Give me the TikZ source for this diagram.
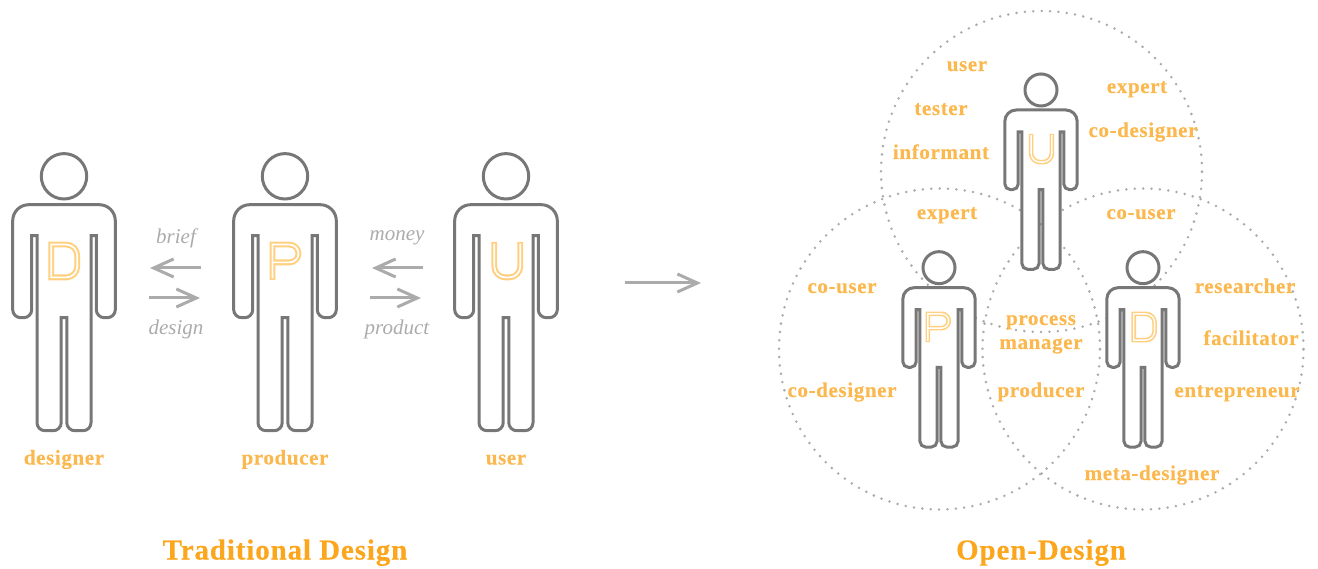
\documentclass[tikz,border=0pt]{standalone}
\usepackage{fontspec}
\setmainfont{Liberation Serif}
\usetikzlibrary{arrows.meta}
\definecolor{figgray}{HTML}{777777}
\definecolor{arrgray}{HTML}{ABABAB}
\definecolor{dotgray}{HTML}{ABABAB}
\definecolor{lab}{HTML}{FBB84F}
\definecolor{ttl}{HTML}{FBA61C}
\definecolor{ltr}{HTML}{FFD080}
\tikzset{
  personline/.style={draw=figgray,line width=3pt,fill=white,line join=miter},
  venn/.style={draw=dotgray,line width=2.8pt,line cap=round,dash pattern=on 0pt off 8.4pt},
  flow/.style={draw=arrgray,line width=3pt,-{Straight Barb[length=20pt,width=18pt,line width=3pt]}},
  rolelabel/.style={text=lab,font=\fontsize{21}{24}\selectfont\bfseries\addfontfeatures{LetterSpace=3,FakeBold=0.25},anchor=base,align=center,inner sep=0pt},
  flowlabel/.style={text=arrgray,font=\fontsize{21}{24}\selectfont\itshape,anchor=base,inner sep=0pt},
  titlelabel/.style={text=ttl,font=\fontsize{29}{32}\selectfont\bfseries\addfontfeatures{LetterSpace=3,FakeBold=0.25},anchor=base,inner sep=0pt},
}
% #1 x, #2 shoulder y, #3 scale
\newcommand{\personfig}[3]{%
  \begin{scope}[shift={(#1,#2)},x=#3pt,y=-#3pt]
    \draw[personline] (0,-28.4) circle[radius=22.7];
    \draw[personline]
      (-35.3,0) -- (35.3,0) arc[start angle=-90,end angle=0,radius=16]
      -- (51.3,105) arc[start angle=0,end angle=90,radius=8]
      -- (40.3,113) arc[start angle=90,end angle=180,radius=8]
      -- (32.3,31) -- (27,31)
      -- (27,218) arc[start angle=0,end angle=90,radius=8]
      -- (10.8,226) arc[start angle=90,end angle=180,radius=8]
      -- (2.8,113) -- (-2.8,113)
      -- (-2.8,218) arc[start angle=0,end angle=90,radius=8]
      -- (-19,226) arc[start angle=90,end angle=180,radius=8]
      -- (-27,31) -- (-32.3,31)
      -- (-32.3,105) arc[start angle=0,end angle=90,radius=8]
      -- (-43.3,113) arc[start angle=90,end angle=180,radius=8]
      -- (-51.3,16) arc[start angle=180,end angle=270,radius=16]
      -- cycle;
  \end{scope}}
% #1 x, #2 centre y, #3 scale
\newcommand{\ltrD}[3]{%
  \begin{scope}[shift={(#1,#2)},x=#3pt,y=-#3pt]
    \pgfmathsetmacro{\wo}{5.8*#3}\pgfmathsetmacro{\wi}{1.7*#3}
    \foreach \cc/\ww in {ltr/\wo,white/\wi}{
    \draw[\cc,line width=\ww pt]
      (-13,-16.4) -- (2,-16.4) arc[start angle=-90,end angle=0,radius=11]
      -- (13,5.4) arc[start angle=0,end angle=90,radius=11]
      -- (-13,16.4) -- cycle;}
  \end{scope}}
\newcommand{\ltrP}[3]{%
  \begin{scope}[shift={(#1,#2)},x=#3pt,y=-#3pt]
    \pgfmathsetmacro{\wo}{5.8*#3}\pgfmathsetmacro{\wi}{1.7*#3}
    \draw[ltr,line width=\wo pt]
      (-13,19) -- (-13,-16.4) -- (4.1,-16.4) arc[start angle=-90,end angle=90,radius=8.9] -- (-13,1.4);
    \draw[white,line width=\wi pt]
      (-13,17.4) -- (-13,-16.4) -- (4.1,-16.4) arc[start angle=-90,end angle=90,radius=8.9] -- (-13,1.4);
  \end{scope}}
\newcommand{\ltrU}[3]{%
  \begin{scope}[shift={(#1,#2)},x=#3pt,y=-#3pt]
    \pgfmathsetmacro{\wo}{5.8*#3}\pgfmathsetmacro{\wi}{1.7*#3}
    \draw[ltr,line width=\wo pt]
      (-13,-19) -- (-13,5.4) arc[start angle=180,end angle=90,radius=11]
      -- (2,16.4) arc[start angle=90,end angle=0,radius=11] -- (13,-19);
    \draw[white,line width=\wi pt]
      (-13,-17.4) -- (-13,5.4) arc[start angle=180,end angle=90,radius=11]
      -- (2,16.4) arc[start angle=90,end angle=0,radius=11] -- (13,-17.4);
  \end{scope}}
\begin{document}
\begin{tikzpicture}[x=1pt,y=-1pt]
\useasboundingbox (0,0) rectangle (1318,569);
% dotted circles
\node[venn,circle,minimum size=321pt,inner sep=0pt] (topring) at (1041.5,171.5) {};
\node[venn,circle,minimum size=321pt,inner sep=0pt] (leftring) at (939.5,349) {};
\node[venn,circle,minimum size=321pt,inner sep=0pt] (rightring) at (1143,349) {};
% figures
\personfig{64}{204.7}{1}
\personfig{285}{204.7}{1}
\personfig{506}{204.7}{1}
\personfig{1041}{110}{0.705}
\personfig{939}{287.7}{0.705}
\personfig{1143}{287.7}{0.705}
\ltrD{64.3}{261}{1}
\ltrP{285.5}{261}{1}
\ltrU{507.3}{261}{1}
\ltrU{1041.5}{149}{0.8}
\ltrP{938.3}{327}{0.8}
\ltrD{1144.2}{327}{0.8}
% arrows
\coordinate (b1s) at (201,268); \coordinate (b1e) at (150,268);
\coordinate (d1s) at (149,298); \coordinate (d1e) at (200,298);
\coordinate (b2s) at (423,268); \coordinate (b2e) at (372,268);
\coordinate (d2s) at (370,298); \coordinate (d2e) at (421,298);
\coordinate (bigs) at (625,283); \coordinate (bige) at (701,283);
\draw[flow] (b1s) -- (b1e);
\draw[flow] (d1s) -- (d1e);
\draw[flow] (b2s) -- (b2e);
\draw[flow] (d2s) -- (d2e);
\draw[flow] (bigs) -- (bige);
% flow labels
\node[flowlabel] (lbrief) at (176,244) {brief};
\node[flowlabel] (ldesign) at (176,334.5) {design};
\node[flowlabel] (lmoney) at (397,241) {money};
\node[flowlabel] (lproduct) at (397,334.5) {product};
% labels under figures
\node[rolelabel] (ldesigner) at (64,464.5) {designer};
\node[rolelabel] (lproducer) at (285,464.5) {producer};
\node[rolelabel] (luser) at (506,464.5) {user};
\node[titlelabel] (ttrad) at (285,559.5) {Traditional Design};
\node[titlelabel] (topen) at (1041,559.5) {Open-Design};
% venn labels
\node[rolelabel] (a1) at (967,71) {user};
\node[rolelabel] (a2) at (1137,93) {expert};
\node[rolelabel] (a3) at (941,115) {tester};
\node[rolelabel] (a4) at (1143,137) {co-designer};
\node[rolelabel] (a5) at (941,159) {informant};
\node[rolelabel] (a6) at (947,219) {expert};
\node[rolelabel] (a7) at (1141,219) {co-user};
\node[rolelabel] (a8) at (842,293) {co-user};
\node[rolelabel] (a9) at (1245,293) {researcher};
\node[rolelabel] (a10) at (1041,325) {process};
\node[rolelabel] (a11) at (1041,349) {manager};
\node[rolelabel] (a12) at (1251,345) {facilitator};
\node[rolelabel] (a13) at (842,397) {co-designer};
\node[rolelabel] (a14) at (1041,397) {producer};
\node[rolelabel] (a15) at (1237,397) {entrepreneur};
\node[rolelabel] (a16) at (1152,480) {meta-designer};
\end{tikzpicture}
\end{document}
